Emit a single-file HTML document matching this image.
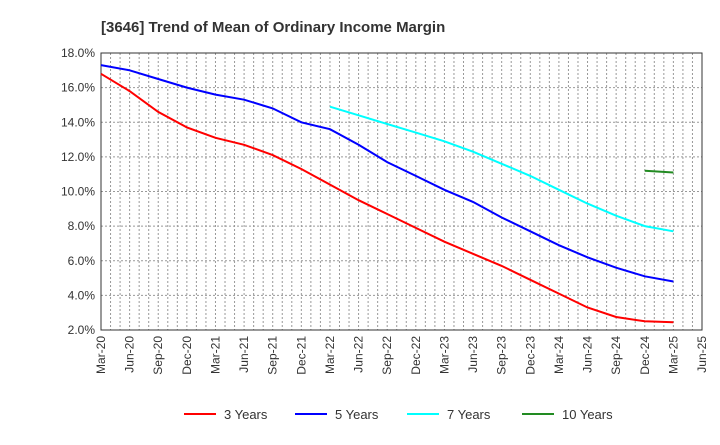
<!DOCTYPE html>
<html><head><meta charset="utf-8"><style>body{margin:0;background:#fff}svg{font-family:"Liberation Sans",sans-serif}</style></head>
<body>
<svg id="c" width="720" height="440"></svg>
<script>
const xLabels=["Mar-20","Jun-20","Sep-20","Dec-20","Mar-21","Jun-21","Sep-21","Dec-21","Mar-22","Jun-22","Sep-22","Dec-22","Mar-23","Jun-23","Sep-23","Dec-23","Mar-24","Jun-24","Sep-24","Dec-24","Mar-25","Jun-25"];
const yTicks=[2,4,6,8,10,12,14,16,18];
const s3=[16.8,15.8,14.6,13.7,13.1,12.7,12.1,11.3,10.4,9.5,8.7,7.9,7.1,6.4,5.7,4.9,4.1,3.3,2.75,2.5,2.45];
const s5=[17.3,17.0,16.5,16.0,15.6,15.3,14.8,14.0,13.6,12.7,11.7,10.9,10.1,9.4,8.5,7.7,6.9,6.2,5.6,5.1,4.8];
const s7=[null,null,null,null,null,null,null,null,14.9,14.4,13.9,13.4,12.9,12.3,11.6,10.9,10.1,9.3,8.6,8.0,7.7];
const s10=[null,null,null,null,null,null,null,null,null,null,null,null,null,null,null,null,null,null,null,11.2,11.1];
const series=[{n:"3 Years",c:"#ff0000",d:s3},{n:"5 Years",c:"#0000ff",d:s5},{n:"7 Years",c:"#00ffff",d:s7},{n:"10 Years",c:"#228b22",d:s10}];
const L=101,R=702,T=53,B=330,NS="http://www.w3.org/2000/svg";
const xm=m=>L+(R-L)*m/63, xq=i=>xm(i*3), y=v=>B-(v-2)/16*(B-T);
const svg=document.getElementById('c');
function el(t,a,p){const e=document.createElementNS(NS,t);for(const k in a)e.setAttribute(k,a[k]);(p||svg).appendChild(e);return e;}
const title=el('text',{x:101,y:32,'font-size':15,'font-weight':'bold',fill:'#333'});title.textContent="[3646]  Trend of Mean of Ordinary Income Margin";


for(let m=1;m<63;m++){const g=el('line',{x1:xm(m),x2:xm(m),y1:T,y2:B,stroke:'#999','stroke-dasharray':'2,2','stroke-width':1});

}
yTicks.forEach(v=>{const g=el('line',{x1:L,x2:R,y1:y(v),y2:y(v),stroke:'#999','stroke-dasharray':'2,2'});


const t=el('text',{x:L-6,y:y(v)+4,'text-anchor':'end','font-size':12,fill:'#333'});t.textContent=v.toFixed(1)+"%";

});
xLabels.forEach((l,i)=>{const t=el('text',{transform:`translate(${xq(i)+4},${B+6}) rotate(-90)`,'text-anchor':'end','font-size':12,fill:'#333'});t.textContent=l;

});
const fr=el('rect',{x:L,y:T,width:R-L,height:B-T,fill:'none',stroke:'#333'});


series.forEach((s,k)=>{let d="";s.d.forEach((v,i)=>{if(v==null)return;d+=(d?"L":"M")+xq(i).toFixed(1)+","+y(v).toFixed(1);});
const p=el('path',{d:d,fill:'none',stroke:s.c,'stroke-width':2});


const lx=[184,295,407,522][k];
const ln=el('line',{x1:lx,x2:lx+32,y1:414,y2:414,stroke:s.c,'stroke-width':2});


const t=el('text',{x:lx+40,y:419,'font-size':13,fill:'#333'});t.textContent=s.n;

});
</script>
</body></html>
